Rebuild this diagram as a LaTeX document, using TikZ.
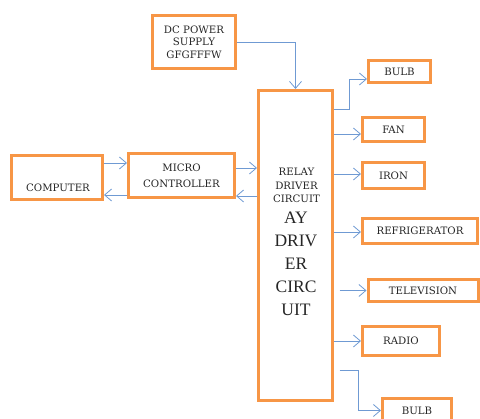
\documentclass[tikz,border=0pt]{standalone}
\usepackage{fontspec}
\setmainfont{DejaVu Serif}
\newfontfamily\bigserif{Liberation Serif}
\usetikzlibrary{arrows.meta,calc}
\definecolor{boxorange}{HTML}{F79646}
\definecolor{linkblue}{HTML}{6F9AD3}
\definecolor{ink}{HTML}{262626}
\begin{document}
\begin{tikzpicture}[x=1pt,y=-1pt,
  blockbox/.style={draw=boxorange, line width=3pt, rectangle, inner sep=0pt,
    fill=white, align=center, text=ink, font=\fontsize{10.2}{14}\selectfont},
  link/.style={draw=linkblue, line width=0.8pt,
    -{Straight Barb[length=7pt,width=12pt]}},
  lbl/.style={inner sep=0pt, align=center, text=ink}]
\useasboundingbox (0,0) rectangle (480,419);

% left-hand blocks
\node[blockbox, minimum width=83pt, minimum height=53pt,
      font=\fontsize{10.2}{12.5}\selectfont] (dc) at (194,42) {DC POWER\\SUPPLY\\GFGFFFW};
\node[blockbox, minimum width=91pt, minimum height=44pt] (comp) at (57,177.5) {};
\node[lbl, anchor=base, font=\fontsize{10.2}{14}\selectfont] (comptext) at (58,192) {COMPUTER};
\node[blockbox, minimum width=106pt, minimum height=44pt,
      font=\fontsize{10.2}{16}\selectfont] (micro) at (181.5,176) {MICRO\\CONTROLLER};

% relay driver block
\node[blockbox, minimum width=74pt, minimum height=310pt] (relay) at (295.5,245.5) {};
\node[lbl, anchor=north, font=\fontsize{10.2}{13.5}\selectfont] (relaytitle)
  at (296.5,168) {RELAY\\DRIVER\\CIRCUIT};
\node[lbl, anchor=north, font=\bigserif\fontsize{17.5}{23}\selectfont] (relaybig)
  at (296,212) {AY\\DRIV\\ER\\CIRC\\UIT};

% loads
\node[blockbox, minimum width=62pt, minimum height=22pt] (bulb1) at (399.5,71.5) {BULB};
\node[blockbox, minimum width=62pt, minimum height=24pt] (fan) at (393.5,129.5) {FAN};
\node[blockbox, minimum width=62pt, minimum height=26pt] (iron) at (393.5,175.5) {IRON};
\node[blockbox, minimum width=115pt, minimum height=25pt] (fridge) at (420,231) {REFRIGERATOR};
\node[blockbox, minimum width=110pt, minimum height=22pt] (tv) at (423,290.5) {TELEVISION};
\node[blockbox, minimum width=77pt, minimum height=29pt] (radio) at (401,341) {RADIO};
\node[blockbox, minimum width=69pt, minimum height=24pt] (bulb2) at (417,410.5) {BULB};

% supply into the relay block
\draw[link] (dc.east) -| (relay.north);

% computer <-> micro controller
\draw[link] ($(comp.east)+(0,-14.5)$) -- ($(micro.west)+(0,-13)$);
\draw[link] ($(micro.west)+(0,19)$) -- ($(comp.east)+(0,17.5)$);

% micro controller <-> relay block
\coordinate (mr) at ($(micro.east)+(0,-8)$);
\coordinate (rm) at ($(micro.east)+(0,20)$);
\draw[link] (mr) -- (relay.west |- mr);
\draw[link] (relay.west |- rm) -- (rm);

% relay outputs
\coordinate (b1) at ($(bulb1.west)+(0,7.5)$);
\draw[link] ($(relay.east)+(0,-136.5)$) -| ($(b1)+(-17.5,0)$) -- (b1);
\coordinate (fa) at ($(fan.west)+(0,4.5)$);
\draw[link] (relay.east |- fa) -- (fa);
\coordinate (ir) at ($(iron.west)+(0,-1.5)$);
\draw[link] (relay.east |- ir) -- (ir);
\coordinate (fr) at ($(fridge.west)+(0,1)$);
\draw[link] (relay.east |- fr) -- (fr);
\coordinate (tvs) at ($(relay.east)+(5.5,0)$);
\draw[link] (tvs |- tv.west) -- (tv.west);
\draw[link] (relay.east |- radio.west) -- (radio.west);
\coordinate (b2) at (bulb2.west);
\draw[link] ($(relay.east)+(5.5,124.5)$) -| ($(b2)+(-22.5,0)$) -- (b2);
\end{tikzpicture}
\end{document}
